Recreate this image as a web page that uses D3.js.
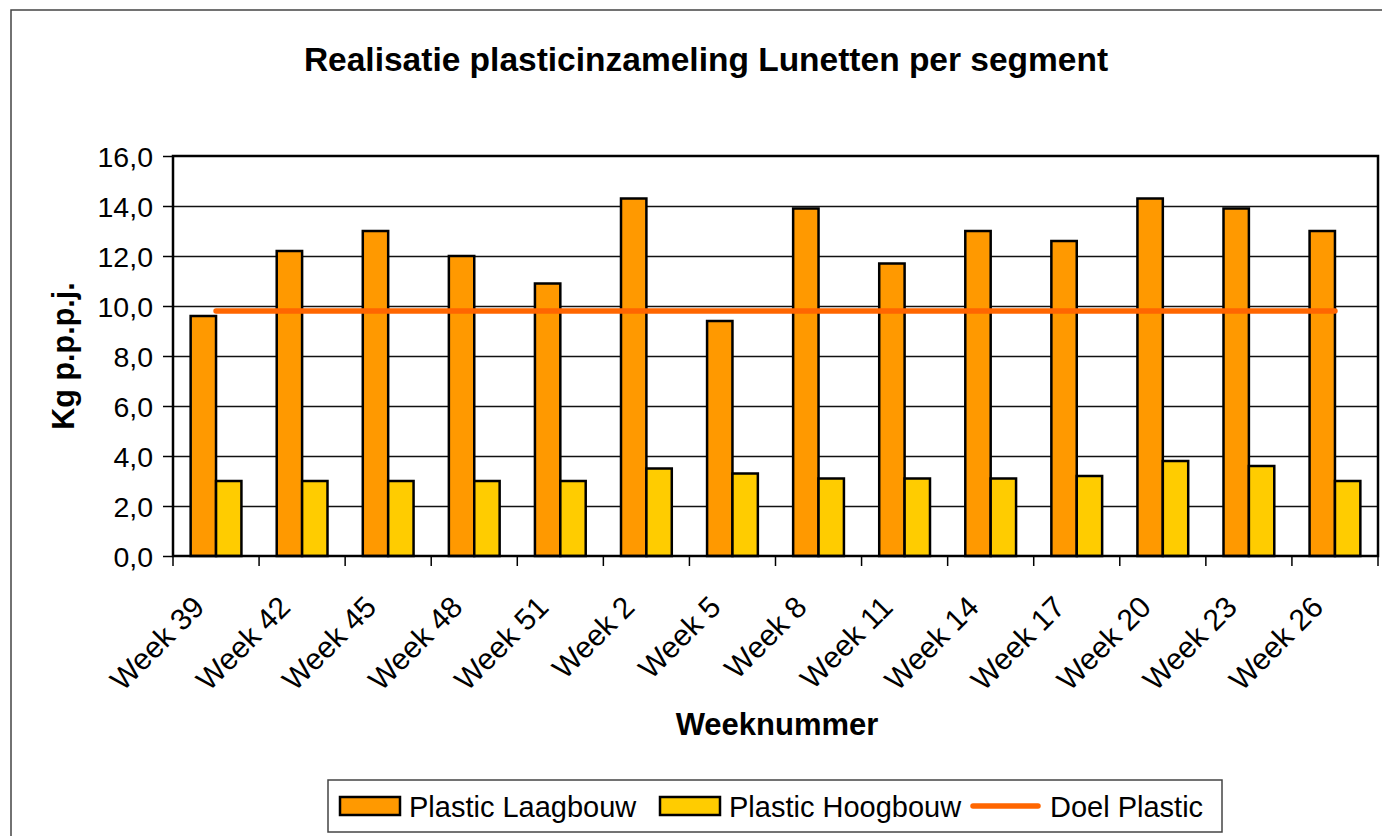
<!DOCTYPE html>
<html>
<head>
<meta charset="utf-8">
<script src="https://cdn.jsdelivr.net/npm/d3@7"></script>
<style>
  body { margin: 0; background: #fff; }
  text { font-family: "Liberation Sans", Arial, sans-serif; fill: #000; }
</style>
</head>
<body>
<script>
// data
var weeks = ['Week 39', 'Week 42', 'Week 45', 'Week 48', 'Week 51', 'Week 2', 'Week 5',
	'Week 8', 'Week 11', 'Week 14', 'Week 17', 'Week 20', 'Week 23', 'Week 26'];
var laagbouw = [9.6, 12.2, 13.0, 12.0, 10.9, 14.3, 9.4, 13.9, 11.7, 13.0, 12.6, 14.3, 13.9, 13.0];
var hoogbouw = [3.0, 3.0, 3.0, 3.0, 3.0, 3.5, 3.3, 3.1, 3.1, 3.1, 3.2, 3.8, 3.6, 3.0];
var doel = [9.8, 9.8, 9.8, 9.8, 9.8, 9.8, 9.8, 9.8, 9.8, 9.8, 9.8, 9.8, 9.8, 9.8];
var yTicks = [0, 2, 4, 6, 8, 10, 12, 14, 16];
var seriesNames = ['Plastic Laagbouw', 'Plastic Hoogbouw', 'Doel Plastic'];

var width = 1382,
	height = 836;

var svg = d3.select('body')
	.append('svg')
	.attr('width', width)
	.attr('height', height);

// outer chart border (runs off the right and bottom edge)
svg.append('rect')
	.attr('x', 11).attr('y', 10)
	.attr('width', 1400).attr('height', 900)
	.attr('fill', '#fff')
	.attr('stroke', '#444')
	.attr('stroke-width', 1.5);

var plot = { left: 173, right: 1378, top: 156, bottom: 556 };

var x = d3.scaleBand()
	.domain(weeks)
	.range([plot.left, plot.right]);

var bw = x.bandwidth();
// two bars per week, gap of about 137% of a bar width
var xs = d3.scaleBand()
	.domain(['l', 'h'])
	.range([bw * 0.205, bw * 0.795]);

var y = d3.scaleLinear()
	.domain([0, 16])
	.range([plot.bottom, plot.top]);

// gridlines
svg.append('g')
	.selectAll('line')
	.data(yTicks.slice(1, -1))
	.enter().append('line')
	.attr('x1', plot.left).attr('x2', plot.right)
	.attr('y1', function(d) { return Math.round(y(d)) + 0.5; })
	.attr('y2', function(d) { return Math.round(y(d)) + 0.5; })
	.attr('stroke', '#111')
	.attr('stroke-width', 1.3);

// y axis
var yAxis = svg.append('g')
	.attr('transform', 'translate(' + plot.left + ',0)')
	.call(d3.axisLeft(y)
		.tickValues(yTicks)
		.tickSize(10)
		.tickPadding(10)
		.tickFormat(function(d) { return d3.format('.1f')(d).replace('.', ','); }));
yAxis.select('.domain').remove();
yAxis.selectAll('.tick line').attr('stroke', '#000').attr('stroke-width', 1.5);
yAxis.selectAll('.tick text')
	.style('font-size', '28.5px')
	.attr('dy', '0.36em');

// x axis: ticks at the category boundaries
var xAxis = svg.append('g')
	.attr('transform', 'translate(0,' + plot.bottom + ')');
xAxis.selectAll('line')
	.data(weeks.concat(['end']))
	.enter().append('line')
	.attr('x1', function(d, i) { return plot.left + i * bw; })
	.attr('x2', function(d, i) { return plot.left + i * bw; })
	.attr('y1', 0).attr('y2', 10)
	.attr('stroke', '#000')
	.attr('stroke-width', 1.5);
xAxis.selectAll('text')
	.data(weeks)
	.enter().append('text')
	.attr('transform', function(d) {
		return 'translate(' + (x(d) + bw / 2 - 10) + ',53) rotate(-45)';
	})
	.attr('text-anchor', 'end')
	.style('font-size', '30px')
	.text(function(d) { return d; });

// bars
var groups = svg.append('g')
	.selectAll('g')
	.data(weeks)
	.enter().append('g')
	.attr('transform', function(d) { return 'translate(' + x(d) + ',0)'; });

groups.append('rect')
	.attr('x', xs('l'))
	.attr('width', xs.bandwidth())
	.attr('y', function(d, i) { return y(laagbouw[i]); })
	.attr('height', function(d, i) { return y(0) - y(laagbouw[i]); })
	.attr('fill', '#FF9900')
	.attr('stroke', '#000')
	.attr('stroke-width', 2.5);

groups.append('rect')
	.attr('x', xs('h'))
	.attr('width', xs.bandwidth())
	.attr('y', function(d, i) { return y(hoogbouw[i]); })
	.attr('height', function(d, i) { return y(0) - y(hoogbouw[i]); })
	.attr('fill', '#FFCC00')
	.attr('stroke', '#000')
	.attr('stroke-width', 2.5);

// target line
var line = d3.line()
	.x(function(d, i) { return x(weeks[i]) + bw / 2; })
	.y(function(d) { return y(d); });

svg.append('path')
	.datum(doel)
	.attr('d', line)
	.attr('fill', 'none')
	.attr('stroke', '#FF6600')
	.attr('stroke-width', 5.5)
	.attr('stroke-linecap', 'round');

// plot area frame
svg.append('rect')
	.attr('x', plot.left).attr('y', plot.top)
	.attr('width', plot.right - plot.left)
	.attr('height', plot.bottom - plot.top)
	.attr('fill', 'none')
	.attr('stroke', '#000')
	.attr('stroke-width', 2.5);

// titles
svg.append('text')
	.attr('x', 706).attr('y', 71)
	.attr('text-anchor', 'middle')
	.style('font-size', '33.5px')
	.style('font-weight', 'bold')
	.text('Realisatie plasticinzameling Lunetten per segment');

svg.append('text')
	.attr('x', 777).attr('y', 735)
	.attr('text-anchor', 'middle')
	.style('font-size', '31px')
	.style('font-weight', 'bold')
	.text('Weeknummer');

svg.append('text')
	.attr('transform', 'translate(74,356) rotate(-90)')
	.attr('text-anchor', 'middle')
	.style('font-size', '30.5px')
	.style('font-weight', 'bold')
	.text('Kg p.p.p.j.');

// legend
var legend = svg.append('g');
legend.append('rect')
	.attr('x', 328).attr('y', 780)
	.attr('width', 894).attr('height', 52)
	.attr('fill', '#fff')
	.attr('stroke', '#444')
	.attr('stroke-width', 1.5);

var legX = [340, 660, 970];
var legColors = ['#FF9900', '#FFCC00', '#FF6600'];
seriesNames.forEach(function(name, i) {
	if (i < 2) {
		legend.append('rect')
			.attr('x', legX[i]).attr('y', 797)
			.attr('width', 60).attr('height', 18)
			.attr('fill', legColors[i])
			.attr('stroke', '#000')
			.attr('stroke-width', 2.5);
	} else {
		legend.append('line')
			.attr('x1', legX[i] + 3).attr('x2', legX[i] + 68)
			.attr('y1', 806).attr('y2', 806)
			.attr('stroke', legColors[i])
			.attr('stroke-width', 5.5)
			.attr('stroke-linecap', 'round');
	}
	legend.append('text')
		.attr('x', legX[i] + (i < 2 ? 69 : 80))
		.attr('y', 817)
		.style('font-size', '29px')
		.text(name);
});
</script>
</body>
</html>
